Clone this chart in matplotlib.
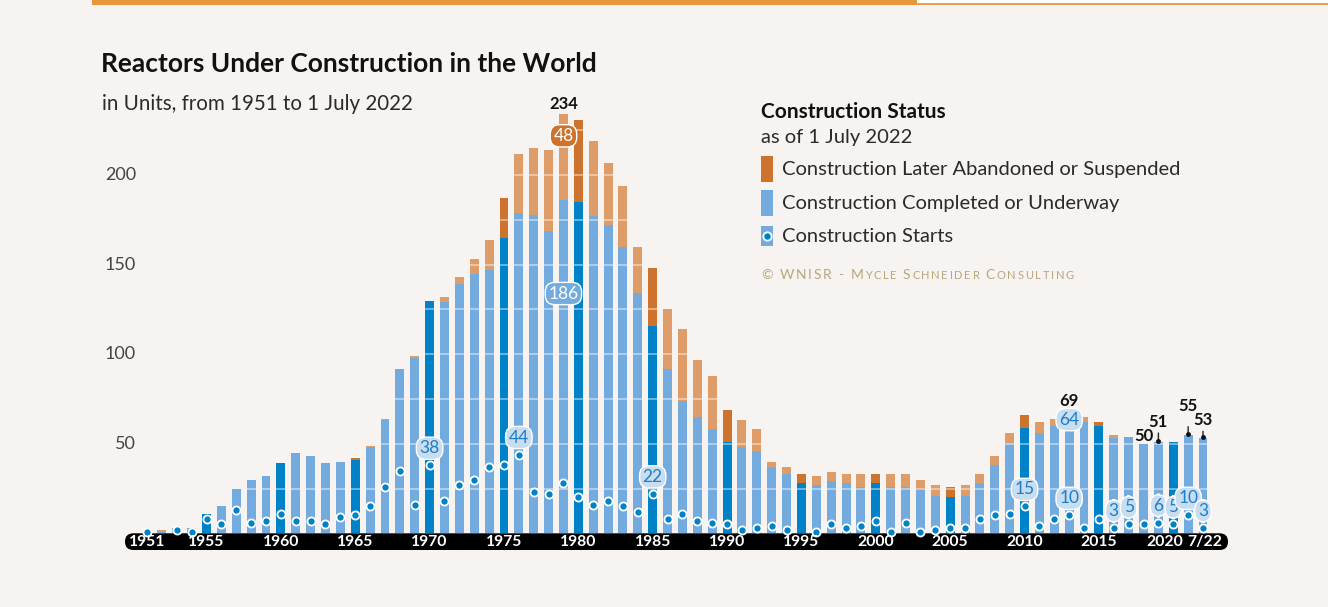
import matplotlib.pyplot as plt
import numpy as np
from matplotlib.patches import FancyBboxPatch, Rectangle
from matplotlib.transforms import IdentityTransform

plt.rcParams['font.family'] = ['Lato', 'DejaVu Sans']

# Data (units, 1951 to 1 July 2022)
years = np.arange(1951, 2023)
completed = [1, 1, 3, 3, 11, 15, 25, 30, 32, 39,
             45, 43, 39, 40, 41, 48, 63, 92, 98, 130,
             129, 139, 145, 147, 165, 179, 178, 169, 186, 185,
             177, 172, 160, 134, 116, 92, 74, 65, 58, 51,
             48, 46, 37, 33, 28, 27, 29, 28, 26, 28,
             26, 26, 25, 21, 20, 21, 28, 38, 50, 59,
             56, 60, 64, 62, 60, 53, 54, 50, 51, 51,
             55, 53]
abandoned = [0, 1, 0, 0, 0, 0, 0, 0, 0, 0,
             0, 0, 0, 0, 1, 1, 1, 0, 1, 0,
             3, 4, 8, 17, 22, 33, 37, 45, 48, 46,
             42, 35, 34, 26, 32, 33, 40, 32, 30, 18,
             15, 12, 3, 4, 5, 5, 5, 5, 7, 5,
             7, 7, 5, 6, 6, 6, 5, 5, 6, 7,
             6, 4, 5, 3, 2, 2, 0, 0, 0, 0,
             0, 0]
starts = [1, 0, 2, 1, 8, 5, 13, 6, 7, 11,
          7, 7, 5, 9, 10, 15, 26, 35, 16, 38,
          18, 27, 30, 37, 38, 44, 23, 22, 28, 20,
          16, 18, 15, 12, 22, 8, 11, 7, 6, 5,
          2, 3, 4, 2, 0, 1, 5, 3, 4, 7,
          1, 6, 1, 2, 3, 3, 8, 10, 11, 15,
          4, 8, 10, 3, 8, 3, 5, 5, 6, 5,
          10, 3]

year_ticks = [1951, 1955, 1960, 1965, 1970, 1975, 1980, 1985, 1990,
              1995, 2000, 2005, 2010, 2015, 2020, 2022]
year_tick_labels = ['1951', '1955', '1960', '1965', '1970', '1975', '1980',
                    '1985', '1990', '1995', '2000', '2005', '2010', '2015',
                    '2020', '7/22']
y_ticks = [50, 100, 150, 200]
grid_levels = [25, 50, 75, 100, 125, 150, 175, 200, 225]
start_label_years = [1970, 1976, 1985, 2010, 2013, 2016, 2017, 2019, 2020, 2021, 2022]

completed = np.array(completed)
abandoned = np.array(abandoned)
starts = np.array(starts)
total = completed + abandoned

# Colours
BG = '#f6f3f1'
BLUE_L, BLUE_D = '#74abdf', '#0082c9'
ORANGE_L, ORANGE_D = '#de9c69', '#cd732e'
LABEL_BG = '#c9ddf1'
LABEL_TXT = '#1c7fc6'
GOLD = '#b8a67d'

W, H = 1328, 607
fig = plt.figure(figsize=(W / 100, H / 100), dpi=100, facecolor=BG)


def fx(x):
    return x / W


def fy(y):
    return 1 - y / H


# top stroke
fig.add_artist(Rectangle((fx(917), fy(3)), 1 - fx(917), 3 / H, color='white', lw=0))
fig.add_artist(Rectangle((fx(917), fy(5)), 1 - fx(917), 1.6 / H, color='#eba04e', lw=0))
fig.add_artist(Rectangle((fx(92), fy(5)), fx(917) - fx(92), 5 / H, color='#e8973f', lw=0))

# Axes: zero line at y=533 px, 1 unit ~ 1.79 px
ax = fig.add_axes([fx(125), fy(533.3), (1228 - 125) / W, (533.3 - 100) / H])
ax.set_xlim(1949.52, 2023.68)
ax.set_ylim(0, 242)
ax.axis('off')

highlight = years % 5 == 0
blue_cols = np.where(highlight, BLUE_D, BLUE_L)
orange_cols = np.where(highlight, ORANGE_D, ORANGE_L)

bar_w = 0.6
ax.bar(years, completed, width=bar_w, color=blue_cols, zorder=2)
ax.bar(years, abandoned, width=bar_w, bottom=completed, color=orange_cols, zorder=2)

# faint white grid, only visible across the bars
for v in grid_levels:
    m = total > v
    ax.hlines([v] * m.sum(), years[m] - bar_w / 2, years[m] + bar_w / 2,
              color='white', alpha=0.45, lw=1.3, zorder=3)

for v in y_ticks:
    ax.text(0.0099, v, str(v), transform=ax.get_yaxis_transform(), ha='right',
            va='center', fontsize=13, color='#444444')

# black year band
band = FancyBboxPatch((125, 57), 1228 - 125, 16.7,
                      boxstyle='round,pad=0,rounding_size=8.3',
                      transform=IdentityTransform(), fc='black', ec='none',
                      clip_on=False, zorder=3)
ax.add_patch(band)
for yr, lab in zip(year_ticks, year_tick_labels):
    xx = yr - 0.6 if lab == '2020' else yr + (0.1 if lab == '7/22' else 0)
    ax.text(xx, -0.02, lab, transform=ax.get_xaxis_transform(), ha='center',
            va='center', fontsize=11.3, color='white', fontweight='bold',
            zorder=6, clip_on=False)

# construction starts
mask = starts > 0
ax.scatter(years[mask], starts[mask], s=34, color=BLUE_D, edgecolors='white',
           linewidths=1.3, zorder=5, clip_on=False)


def box_label(x, y, txt, fc, tc, ec='white'):
    ax.text(x, y, txt, ha='center', va='center', fontsize=12.5, color=tc, zorder=7,
            bbox=dict(boxstyle='round,pad=0.18,rounding_size=0.55', fc=fc, ec=ec, lw=1))


for yr in start_label_years:
    i = yr - 1951
    box_label(yr, starts[i] + 9.5, str(starts[i]), LABEL_BG, LABEL_TXT)

i79 = 1979 - 1951
box_label(1979, completed[i79] * 0.72, str(completed[i79]), BLUE_L, 'white')
box_label(1979, total[i79] - 12, str(abandoned[i79]), ORANGE_D, 'white')
ax.text(1979, total[i79] + 6, str(total[i79]), ha='center', va='center',
        fontsize=12, fontweight='bold', color='#111')
i13 = 2013 - 1951
box_label(2013, completed[i13] - 0.5, str(completed[i13]), LABEL_BG, LABEL_TXT)
ax.text(2013, total[i13] + 5, str(total[i13]), ha='center', va='center',
        fontsize=12, fontweight='bold', color='#111')

# recent totals
i18 = 2018 - 1951
ax.text(2018, total[i18] + 4.5, str(total[i18]), ha='center', va='center',
        fontsize=12, fontweight='bold', color='#111')
for yr, up in [(2019, 11), (2021, 16), (2022, 10)]:
    i = yr - 1951
    ax.annotate(str(total[i]), xy=(yr, total[i] + 0.5), xytext=(yr, total[i] + up),
                ha='center', va='center', fontsize=12, fontweight='bold', color='#111',
                arrowprops=dict(arrowstyle='-', color='#222', lw=1, shrinkA=7, shrinkB=0),
                zorder=8)
    ax.plot(yr, total[i] + 0.6, 'o', ms=2.5, color='#111', zorder=8)

# titles
fig.text(fx(101), fy(64), 'Reactors Under Construction in the World', fontsize=19,
         fontweight='bold', color='#111', va='center')
fig.text(fx(102), fy(104), 'in Units, from 1951 to 1 July 2022', fontsize=14.8,
         color='#2a2a2a', va='center')

# legend
fig.text(fx(761), fy(112), 'Construction Status', fontsize=15, fontweight='bold',
         color='#111', va='center')
fig.text(fx(761), fy(137), 'as of 1 July 2022', fontsize=14.5,
         color='#2a2a2a', va='center')
fig.add_artist(Rectangle((fx(761), fy(182)), 11.5 / W, 26 / H, color=ORANGE_D, lw=0))
fig.add_artist(Rectangle((fx(761), fy(216)), 11.5 / W, 26 / H, color=BLUE_L, lw=0))
fig.add_artist(Rectangle((fx(761), fy(246)), 11.5 / W, 20 / H, color=BLUE_L, lw=0))
fig.add_artist(plt.Line2D([fx(766.7)], [fy(236)], marker='o', ms=6, color=BLUE_D,
                          mec='white', mew=1.3))
for yy, txt in [(170, 'Construction Later Abandoned or Suspended'),
                (204, 'Construction Completed or Underway'),
                (236, 'Construction Starts')]:
    fig.text(fx(782), fy(yy), txt, fontsize=14.5, color='#2a2a2a', va='center')

# copyright in small caps, built letter by letter
pieces = [('© WNISR - M', 10), ('YCLE ', 8), ('S', 10), ('CHNEIDER ', 8),
          ('C', 10), ('ONSULTING', 8)]
last = None
for txt, size in pieces:
    for ch in txt:
        if last is None:
            last = fig.text(fx(761), fy(281), ch, fontsize=size, color=GOLD,
                            va='bottom')
        else:
            last = ax.annotate(ch, xy=(1, 0), xycoords=last, xytext=(1.25, 0),
                               textcoords='offset points', fontsize=size,
                               color=GOLD, va='bottom', annotation_clip=False)

fig.savefig('out.png', dpi=100, facecolor=BG)
